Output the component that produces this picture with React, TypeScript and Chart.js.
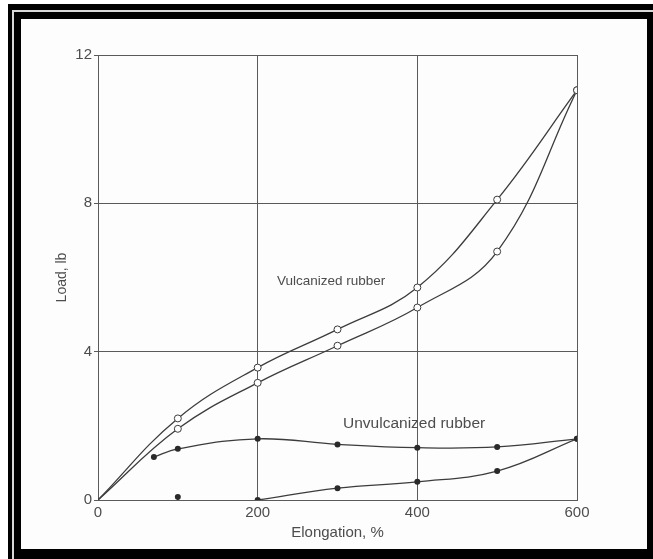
import React, { useEffect, useRef } from "react";
import { Chart, registerables } from "chart.js";

Chart.register(...registerables);

// Data
const vulcX = [0, 100, 200, 300, 400, 500, 600];
const vulcUpper = [0, 2.2, 3.57, 4.6, 5.73, 8.1, 11.05];
const vulcLower = [0, 1.92, 3.16, 4.16, 5.19, 6.7, 11.05];
const unvulcUpperX = [70, 100, 200, 300, 400, 500, 600];
const unvulcUpper = [1.16, 1.38, 1.65, 1.5, 1.41, 1.43, 1.65];
const unvulcLowerX = [200, 300, 400, 500, 600];
const unvulcLower = [0, 0.32, 0.49, 0.78, 1.65];
const strayX = [100];
const strayY = [0.08];

const xTicks = [0, 200, 400, 600];
const yTicks = [0, 4, 8, 12];

const labels = [
  { text: "Vulcanized rubber", x: 292, y: 5.9, size: 13.5 },
  { text: "Unvulcanized rubber", x: 396, y: 2.05, size: 15.5 },
];

const INK = "#3c3c3c";
const TEXT = "#4d4d4d";
const GRID = "#5a5a5a";
const FONT = "'Liberation Sans', Arial, sans-serif";

const pts = (xs: number[], ys: number[]) => xs.map((x, i) => ({ x, y: ys[i] }));

const labelPlugin = {
  id: "curveLabels",
  afterDatasetsDraw(chart: any) {
    const { ctx, scales } = chart;
    ctx.save();
    ctx.fillStyle = TEXT;
    ctx.textAlign = "center";
    ctx.textBaseline = "middle";
    labels.forEach((l) => {
      ctx.font = `${l.size}px ${FONT}`;
      ctx.fillText(l.text, scales.x.getPixelForValue(l.x), scales.y.getPixelForValue(l.y));
    });
    ctx.restore();
  },
};

export default function App() {
  const ref = useRef<HTMLCanvasElement>(null);

  useEffect(() => {
    const prevMargin = document.body.style.margin;
    document.body.style.margin = "0";
    const lineBase = {
      borderColor: INK,
      borderWidth: 1.3,
      tension: 0.4,
      fill: false,
    };
    const hollow = {
      pointBackgroundColor: "#ffffff",
      pointBorderColor: INK,
      pointBorderWidth: 1,
    };
    const solid = {
      pointRadius: 3,
      pointBackgroundColor: "#2a2a2a",
      pointBorderColor: "#2a2a2a",
      pointBorderWidth: 0,
    };
    const chart = new Chart(ref.current!, {
      type: "line",
      data: {
        datasets: [
          {
            ...lineBase,
            ...hollow,
            data: pts(vulcX, vulcUpper),
            pointRadius: vulcX.map((x) => (x === 0 ? 0 : 3.5)),
          },
          {
            ...lineBase,
            ...hollow,
            data: pts(vulcX, vulcLower),
            pointRadius: vulcX.map((x) => (x === 0 ? 0 : 3.5)),
          },
          { ...lineBase, ...solid, data: pts(unvulcUpperX, unvulcUpper) },
          { ...lineBase, ...solid, data: pts(unvulcLowerX, unvulcLower) },
          { ...lineBase, ...solid, data: pts(strayX, strayY), showLine: false },
        ],
      },
      options: {
        animation: false,
        responsive: false,
        maintainAspectRatio: false,
        layout: { padding: { left: 0, top: 36, right: 70, bottom: 0 } },
        plugins: { legend: { display: false }, tooltip: { enabled: false } },
        scales: {
          x: {
            type: "linear",
            min: 0,
            max: 600,
            afterBuildTicks: (s: any) => {
              s.ticks = xTicks.map((v) => ({ value: v }));
            },
            afterFit: (s: any) => {
              s.height = 49;
            },
            ticks: {
              color: TEXT,
              font: { family: FONT, size: 15 },
              padding: 4,
              maxRotation: 0,
            },
            grid: { color: GRID, lineWidth: 1, drawTicks: false },
            border: { display: true, color: GRID, width: 1 },
            title: {
              display: true,
              text: "Elongation, %",
              color: TEXT,
              font: { family: FONT, size: 15 },
              padding: { top: 0, bottom: 7 },
            },
          },
          y: {
            type: "linear",
            min: 0,
            max: 12,
            afterBuildTicks: (s: any) => {
              s.ticks = yTicks.map((v) => ({ value: v }));
            },
            afterFit: (s: any) => {
              s.width = 77;
            },
            ticks: {
              color: TEXT,
              font: { family: FONT, size: 15 },
              padding: 2,
            },
            grid: { color: GRID, lineWidth: 1, drawTicks: true, tickLength: 4 },
            border: { display: true, color: GRID, width: 1 },
            title: {
              display: true,
              text: "Load, lb",
              color: TEXT,
              font: { family: FONT, size: 14 },
              padding: { top: 33, bottom: 0 },
            },
          },
        },
      },
      plugins: [labelPlugin],
    });
    return () => {
      chart.destroy();
      document.body.style.margin = prevMargin;
    };
  }, []);

  return (
    <div style={{ position: "fixed", left: 0, top: 0, width: 653, height: 559, background: "#ffffff", overflow: "hidden" }}>
      <div style={{ position: "absolute", left: 8, top: 4, right: 0, bottom: 0, background: "#000" }} />
      <div style={{ position: "absolute", left: 12, top: 10, right: 0, bottom: 0, background: "#d8d8d8" }} />
      <div style={{ position: "absolute", left: 14, top: 12, right: 0, bottom: 0, background: "#000" }} />
      <div style={{ position: "absolute", left: 21, top: 19, width: 626, height: 530, background: "#fdfdfd" }}>
        <canvas ref={ref} width={626} height={530} style={{ display: "block", width: 626, height: 530 }} />
      </div>
    </div>
  );
}
